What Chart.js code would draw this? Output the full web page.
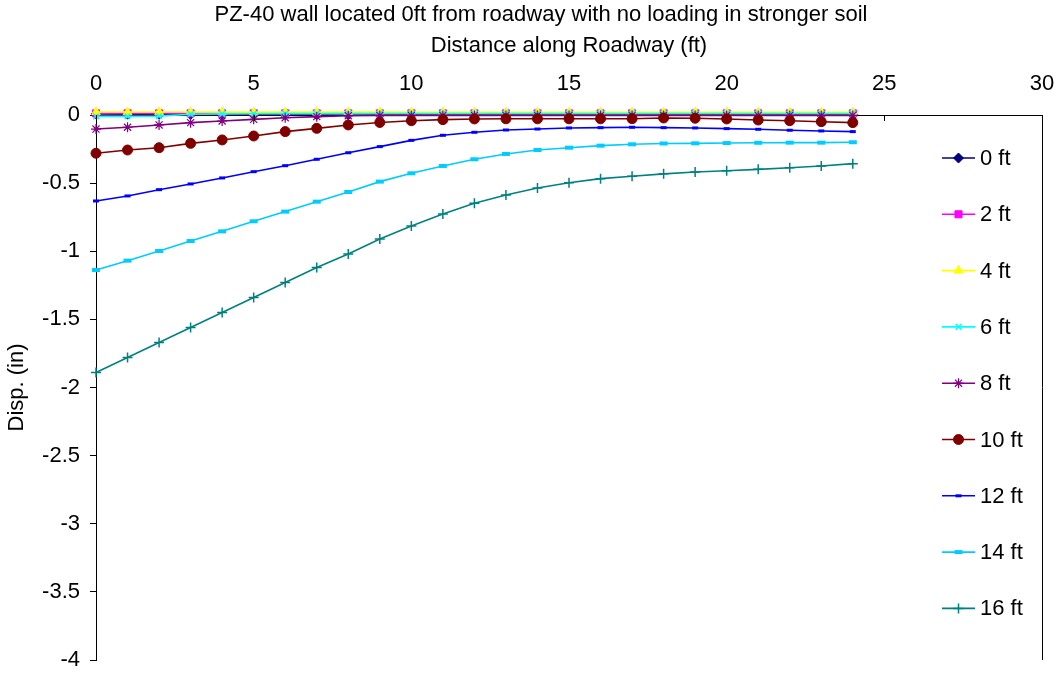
<!DOCTYPE html>
<html>
<head>
<meta charset="utf-8">
<script src="https://cdn.jsdelivr.net/npm/chart.js@4/dist/chart.umd.min.js"></script>
<style>
html,body{margin:0;padding:0;background:#fff;}
#wrap{width:1059px;height:673px;}
</style>
</head>
<body>
<div id="wrap"><canvas id="c" width="1059" height="673"></canvas></div>
<script>
const chartTitle = "PZ-40 wall located 0ft from roadway with no loading in stronger soil";
const xAxisTitle = "Distance along Roadway (ft)";
const yAxisTitle = "Disp. (in)";
const distances = [0,1,2,3,4,5,6,7,8,9,10,11,12,13,14,15,16,17,18,19,20,21,22,23,24];
const seriesNames = ["0 ft","2 ft","4 ft","6 ft","8 ft","10 ft","12 ft","14 ft","16 ft"];
const d0ft  = [0.007,0.006,0.005,0.004,0.004,0.003,0.003,0.002,0.002,0.002,0.002,0.002,0.002,0.002,0.002,0.002,0.002,0.002,0.002,0.002,0.002,0.002,0.002,0.002,0.002];
const d2ft  = [0.012,0.012,0.012,0.012,0.012,0.012,0.012,0.012,0.012,0.012,0.012,0.012,0.012,0.012,0.012,0.012,0.012,0.012,0.012,0.012,0.012,0.012,0.012,0.012,0.012];
const d4ft  = [0.022,0.022,0.022,0.022,0.022,0.021,0.021,0.021,0.021,0.021,0.02,0.02,0.02,0.02,0.02,0.02,0.02,0.02,0.02,0.02,0.02,0.02,0.02,0.02,0.02];
const d6ft  = [-0.01,-0.01,-0.008,0.006,0.008,0.009,0.01,0.01,0.01,0.01,0.01,0.01,0.01,0.01,0.01,0.01,0.01,0.01,0.01,0.01,0.01,0.01,0.01,0.01,0.01];
const d8ft  = [-0.103,-0.09,-0.073,-0.056,-0.044,-0.032,-0.02,-0.012,-0.005,-0.003,-0.003,-0.003,-0.003,-0.003,-0.003,-0.003,-0.003,-0.003,-0.003,-0.003,-0.003,-0.003,-0.003,-0.003,-0.003];
const d10ft = [-0.281,-0.257,-0.24,-0.208,-0.183,-0.154,-0.122,-0.098,-0.073,-0.055,-0.042,-0.034,-0.029,-0.028,-0.028,-0.028,-0.028,-0.027,-0.022,-0.024,-0.029,-0.037,-0.042,-0.049,-0.056];
const d12ft = [-0.631,-0.594,-0.548,-0.506,-0.462,-0.416,-0.372,-0.325,-0.277,-0.232,-0.186,-0.149,-0.127,-0.11,-0.103,-0.095,-0.093,-0.09,-0.093,-0.095,-0.1,-0.105,-0.112,-0.117,-0.122];
const d14ft = [-1.138,-1.069,-0.998,-0.925,-0.854,-0.78,-0.709,-0.636,-0.565,-0.489,-0.428,-0.374,-0.325,-0.286,-0.257,-0.24,-0.225,-0.215,-0.209,-0.208,-0.206,-0.204,-0.203,-0.203,-0.2];
const d16ft = [-1.89,-1.78,-1.67,-1.56,-1.45,-1.34,-1.23,-1.12,-1.02,-0.91,-0.815,-0.727,-0.648,-0.587,-0.536,-0.497,-0.467,-0.45,-0.432,-0.418,-0.409,-0.399,-0.387,-0.374,-0.357];
const xTicks = [0,5,10,15,20,25,30];
const yTicks = [0,-0.5,-1,-1.5,-2,-2.5,-3,-3.5,-4];

const allSeries = [d0ft,d2ft,d4ft,d6ft,d8ft,d10ft,d12ft,d14ft,d16ft];
const colors = ["#000080","#FF00FF","#FFFF00","#00FFFF","#800080","#800000","#0000FF","#00CCFF","#008080"];
const styles = ["rectRot","rect","triangle","crossRot","star","circle","line","line","cross"];
const radii  = [5,5,5,4,5,5,3,4,5];
const pbw    = [1,1,1,1.5,1.2,1,3,4,1.5];

const FONT = "'Liberation Sans', Arial, sans-serif";

const datasets = allSeries.map((arr,i)=>({
  label: seriesNames[i],
  data: distances.map((x,k)=>({x:x,y:arr[k]})),
  borderColor: colors[i],
  backgroundColor: colors[i],
  borderWidth: 1.6,
  pointStyle: styles[i],
  pointRadius: radii[i],
  pointBackgroundColor: colors[i],
  pointBorderColor: colors[i],
  pointBorderWidth: pbw[i],
  tension: 0,
  clip: false,
  order: allSeries.length - i
}));

const decor = {
  id:'decor',
  afterDraw(chart){
    const ctx = chart.ctx;
    const xs = chart.scales.x;
    const top = chart.chartArea.top, bottom = chart.chartArea.bottom;
    ctx.save();
    ctx.fillStyle = '#000';
    ctx.font = "22px " + FONT;
    ctx.textAlign = 'center';
    ctx.textBaseline = 'middle';
    ctx.fillText(chartTitle, 541, 15);
    ctx.strokeStyle = '#000';
    ctx.lineWidth = 1;
    xTicks.forEach(v=>{
      const px = Math.round(xs.getPixelForValue(v))+0.5;
      ctx.beginPath(); ctx.moveTo(px, top); ctx.lineTo(px, top+6); ctx.stroke();
    });
    const rx = Math.round(xs.getPixelForValue(30))+0.5;
    ctx.beginPath(); ctx.moveTo(rx, top); ctx.lineTo(rx, bottom); ctx.stroke();
    const lx0 = 942, lx1 = 975, mx = 958.5, tx = 980;
    seriesNames.forEach((name,i)=>{
      const y = 158 + i*56.3;
      ctx.strokeStyle = colors[i];
      ctx.lineWidth = 1.6;
      ctx.beginPath(); ctx.moveTo(lx0, y); ctx.lineTo(lx1, y); ctx.stroke();
      ctx.fillStyle = colors[i];
      ctx.strokeStyle = colors[i];
      ctx.lineWidth = pbw[i];
      Chart.helpers.drawPoint(ctx, {pointStyle: styles[i], radius: radii[i], rotation: 0, borderWidth: pbw[i]}, mx, y);
      ctx.fillStyle = '#000';
      ctx.font = "22px " + FONT;
      ctx.textAlign = 'left';
      ctx.textBaseline = 'middle';
      ctx.fillText(name, tx, y+1);
    });
    ctx.restore();
  }
};

new Chart(document.getElementById('c'), {
  type: 'line',
  data: { datasets },
  options: {
    responsive: false,
    animation: false,
    devicePixelRatio: 1,
    layout: { padding: { left: 0, top: 0, right: 17, bottom: 13 } },
    plugins: { legend: { display: false }, title: { display: false }, tooltip: { enabled: false } },
    scales: {
      x: {
        type: 'linear', position: 'top', min: 0, max: 30,
        afterBuildTicks(s){ s.ticks = xTicks.map(v=>({value:v})); },
        afterFit(s){ s.height = 115; s.paddingLeft = 0; s.paddingRight = 0; },
        grid: { display: false, drawTicks: false, tickLength: 0 },
        border: { display: true, color: '#000', width: 1 },
        ticks: { color: '#000', font: { family: FONT, size: 22 }, padding: 18, maxRotation: 0, autoSkip: false },
        title: { display: true, text: xAxisTitle, color: '#000', font: { family: FONT, size: 22 }, padding: { top: 33, bottom: 0 } }
      },
      y: {
        type: 'linear', position: 'left', min: -4, max: 0,
        afterBuildTicks(s){ s.ticks = yTicks.map(v=>({value:v})); },
        afterFit(s){ s.width = 96; s.paddingTop = 0; s.paddingBottom = 0; },
        grid: { display: true, drawOnChartArea: false, drawTicks: true, tickLength: 6, color: '#000' },
        border: { display: true, color: '#000', width: 1 },
        ticks: { color: '#000', font: { family: FONT, size: 22 }, padding: 10, autoSkip: false,
                 callback: v => String(v) },
        title: { display: true, text: yAxisTitle, color: '#000', font: { family: FONT, size: 22 }, padding: { top: 4, bottom: 0 } }
      }
    }
  },
  plugins: [decor]
});
</script>
</body>
</html>
